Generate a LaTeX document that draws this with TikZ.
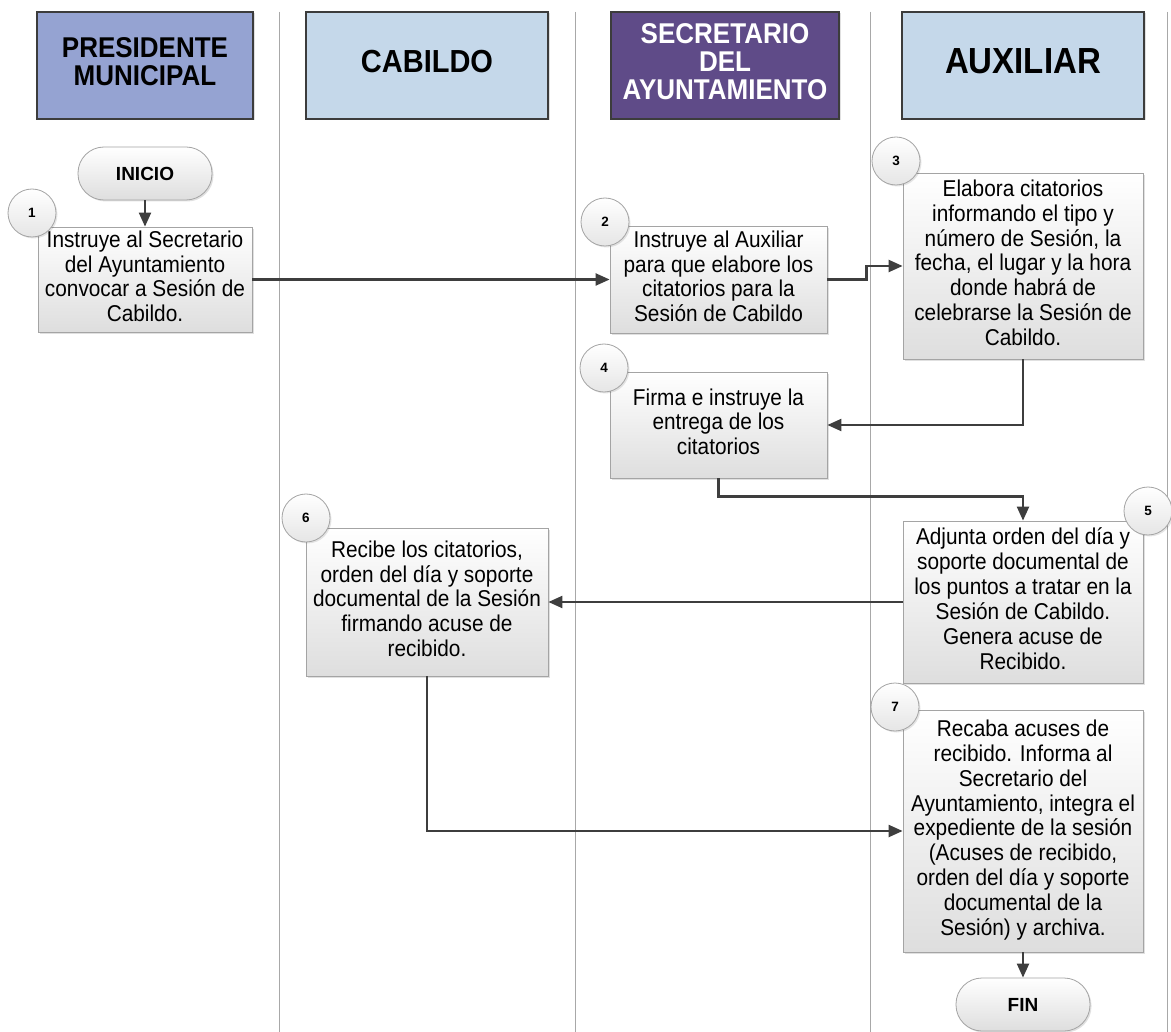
\documentclass[tikz,border=0pt]{standalone}
\usepackage{fontspec}
\setmainfont{Liberation Sans}
\usetikzlibrary{arrows.meta,shadows}

% text block, slightly stretched vertically
\newcommand\stxt[1]{\scalebox{1}[1.1]{\begin{tabular}{@{}c@{}}#1\end{tabular}}}

\definecolor{lanegray}{HTML}{A8A8A8}
\definecolor{presfill}{HTML}{95A3D2}
\definecolor{lightfill}{HTML}{C5D8EA}
\definecolor{secfill}{HTML}{5F4B88}
\definecolor{edgedark}{HTML}{3C3C3C}
\definecolor{boxedge}{HTML}{A4A4A4}
\definecolor{flowgray}{HTML}{3E3E3E}

\tikzset{
  lane/.style={draw=lanegray, line width=0.9pt},
  header/.style={draw=edgedark, line width=1.4pt, inner sep=0pt, align=center,
    minimum height=107pt,
    general shadow={shadow xshift=1.5pt, shadow yshift=-1.5pt, fill=black, opacity=0.12}},
  proc/.style={draw=boxedge, line width=0.8pt, top color=white, bottom color=black!13,
    inner sep=0pt, font=\fontsize{20.8}{22.7}\selectfont,
    general shadow={shadow xshift=2pt, shadow yshift=-2pt, fill=black, opacity=0.12}},
  term/.style={draw=boxedge, line width=0.8pt, rounded corners=26pt, top color=white,
    bottom color=black!13, minimum width=134pt, minimum height=53pt, inner sep=0pt,
    font=\fontsize{19}{22}\selectfont\bfseries,
    general shadow={shadow xshift=1.5pt, shadow yshift=-1.5pt, fill=black, opacity=0.12}},
  num/.style={circle, draw=boxedge, line width=0.8pt, top color=white, bottom color=black!10,
    minimum size=48pt, inner sep=0pt, font=\fontsize{13.5}{15}\selectfont\bfseries,
    general shadow={shadow xshift=1.5pt, shadow yshift=-1.5pt, fill=black, opacity=0.10}},
  flowline/.style={draw=flowgray, line width=2.2pt, -{Triangle[length=14pt,width=12pt]}},
}

\begin{document}
\begin{tikzpicture}[x=1pt,y=-1pt]
  \useasboundingbox (0,0) rectangle (1171,1032);
  \fill[white] (0,0) rectangle (1171,1032);

  % swimlane separators
  \foreach \lx in {279,575,870,1167}
    \draw[lane] (\lx,12) -- (\lx,1032);

  % lane headers
  \node[header, fill=presfill, minimum width=216pt, font=\fontsize{26}{24.5}\selectfont\bfseries]
    (hpres) at (145,65.5) {\stxt{PRESIDENTE\\MUNICIPAL}};
  \node[header, fill=lightfill, minimum width=242pt, font=\fontsize{29}{26}\selectfont\bfseries]
    (hcab) at (427,65.5) {\stxt{CABILDO}};
  \node[header, fill=secfill, text=white, minimum width=228pt, font=\fontsize{26}{24.5}\selectfont\bfseries]
    (hsec) at (725,65.5) {\stxt{SECRETARIO\\DEL\\AYUNTAMIENTO}};
  \node[header, fill=lightfill, minimum width=242pt, font=\fontsize{33}{30}\selectfont\bfseries]
    (haux) at (1023,65.5) {\stxt{AUXILIAR}};

  % start / end
  \node[term] (ini) at (145,173.5) {INICIO};
  \node[term] (fin) at (1023,1004.5) {FIN};

  % process steps
  \node[proc, minimum width=214pt, minimum height=105pt] (b1) at (145,279.5)
    {\stxt{Instruye al Secretario\\del Ayuntamiento\\convocar a Sesión de\\Cabildo.}};
  \node[proc, minimum width=217pt, minimum height=107pt] (b2) at (718.5,279.5)
    {\stxt{Instruye al Auxiliar\\para que elabore los\\citatorios para la\\Sesión de Cabildo}};
  \node[proc, minimum width=240pt, minimum height=186pt] (b3) at (1023,266)
    {\stxt{Elabora citatorios\\informando el tipo y\\número de Sesión, la\\fecha, el lugar y la hora\\donde habrá de\\celebrarse la Sesión de\\Cabildo.}};
  \node[proc, minimum width=217pt, minimum height=106pt] (b4) at (718.5,425)
    {\stxt{Firma e instruye la\\entrega de los\\citatorios}};
  \node[proc, minimum width=240pt, minimum height=162pt] (b5) at (1023,602)
    {\stxt{Adjunta orden del día y\\soporte documental de\\los puntos a tratar en la\\Sesión de Cabildo.\\Genera acuse de\\Recibido.}};
  \node[proc, minimum width=242pt, minimum height=148pt] (b6) at (427,602)
    {\stxt{Recibe los citatorios,\\orden del día y soporte\\documental de la Sesión\\firmando acuse de\\recibido.}};
  \node[proc, minimum width=240pt, minimum height=242pt] (b7) at (1023,831)
    {\stxt{Recaba acuses de\\recibido. Informa al\\Secretario del\\Ayuntamiento, integra el\\expediente de la sesión\\(Acuses de recibido,\\orden del día y soporte\\documental de la\\Sesión) y archiva.}};

  % step numbers
  \node[num] (n1) at (32,213) {1};
  \node[num] (n2) at (605,222) {2};
  \node[num] (n3) at (896,161) {3};
  \node[num] (n4) at (604,368) {4};
  \node[num] (n5) at (1148,511) {5};
  \node[num] (n6) at (306,518) {6};
  \node[num] (n7) at (895,707) {7};

  % flow
  \draw[flowline] (ini) -- (b1);
  \draw[flowline] (b1) -- (b2);
  \draw[flowline] (b2.east) -- ++(39,0) |- (b3.west);
  \draw[flowline] (b3.south) |- (b4.east);
  \draw[flowline] (b4.south) -- ++(0,18) -| (b5.north);
  \draw[flowline] (b5.west) -- (b6.east);
  \draw[flowline] (b6.south) |- (b7.west);
  \draw[flowline] (b7) -- (fin);
\end{tikzpicture}
\end{document}
